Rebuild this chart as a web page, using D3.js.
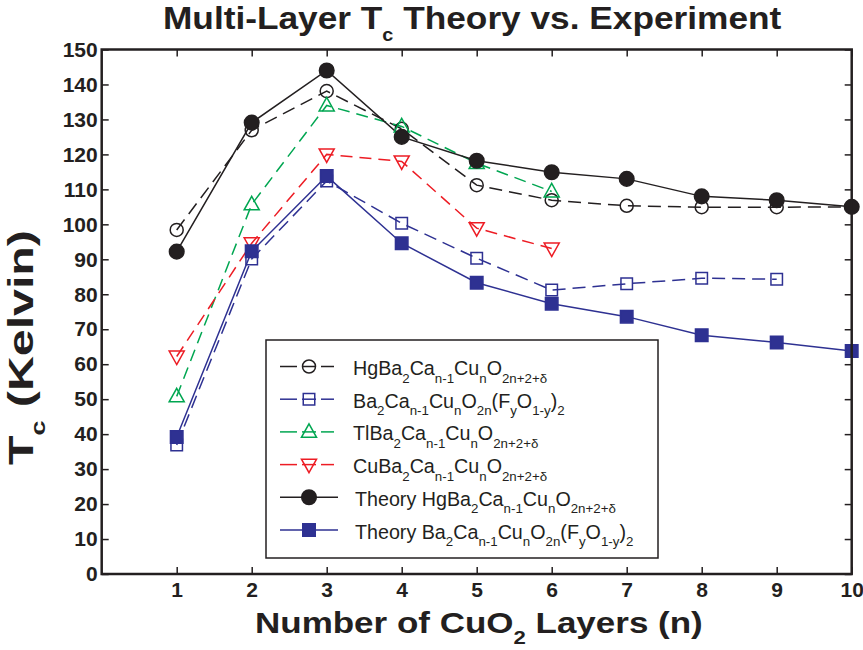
<!DOCTYPE html>
<html><head><meta charset="utf-8">
<script src="https://cdn.jsdelivr.net/npm/d3@7/dist/d3.min.js"></script>
<style>
body{margin:0;background:#fff;}
svg{display:block;font-family:"Liberation Sans",Arial,Helvetica,sans-serif;}
</style></head><body>
<svg id="chart" width="863" height="650"></svg>
<script>
// ---- data ----
const layers = [1,2,3,4,5,6,7,8,9,10];
const hgExp     = [98.4, 126.9, 138.1, 127.3, 111.2, 106.9, 105.3, 104.9, 104.9, 105.0];
const baExp     = [36.9, 90.1, 112.4, 100.3, 90.3, 81.2, 83.0, 84.6, 84.3];
const tlExp     = [50.8, 105.7, 134.0, 128.0, 117.5, 109.4];
const cuExp     = [62.2, 94.6, 120.0, 118.0, 98.9, 93.1];
const hgTheory  = [92.2, 129.1, 144.0, 125.0, 118.2, 114.9, 113.0, 108.0, 106.9, 105.0];
const baTheory  = [39.2, 92.3, 113.8, 94.6, 83.3, 77.3, 73.6, 68.3, 66.2, 63.8];
const yTicks = [0,10,20,30,40,50,60,70,80,90,100,110,120,130,140,150];
const xTicks = [1,2,3,4,5,6,7,8,9,10];
const seriesNames = [
  "HgBa_{2}Ca_{n-1}Cu_{n}O_{2n+2+δ}",
  "Ba_{2}Ca_{n-1}Cu_{n}O_{2n}(F_{y}O_{1-y})_{2}",
  "TlBa_{2}Ca_{n-1}Cu_{n}O_{2n+2+δ}",
  "CuBa_{2}Ca_{n-1}Cu_{n}O_{2n+2+δ}",
  "Theory HgBa_{2}Ca_{n-1}Cu_{n}O_{2n+2+δ}",
  "Theory Ba_{2}Ca_{n-1}Cu_{n}O_{2n}(F_{y}O_{1-y})_{2}"
];
const titleText = "Multi-Layer T_{c} Theory vs. Experiment";
const xLabelText = "Number of CuO_{2} Layers (n)";
const yLabelText = "T_{c} (Kelvin)";

// ---- styles ----
const C = {black:"#231f20", blue:"#2e3192", green:"#00a651", red:"#ed1c24"};
const series = [
  {vals: hgExp,    color:C.black, dash:"13,7", marker:"circle",  filled:false},
  {vals: baExp,    color:C.blue,  dash:"13,7", marker:"square",  filled:false},
  {vals: tlExp,    color:C.green, dash:"12,7", marker:"triUp",   filled:false},
  {vals: cuExp,    color:C.red,   dash:"12,7", marker:"triDown", filled:false},
  {vals: hgTheory, color:C.black, dash:null,   marker:"circle",  filled:true},
  {vals: baTheory, color:C.blue,  dash:null,   marker:"square",  filled:true}
];

const svg = d3.select("#chart");
const L = 101.7, R = 851.7, T = 49.5, B = 574;
const x = d3.scaleLinear().domain([0,10]).range([L,R]);
const y = d3.scaleLinear().domain([0,150]).range([B,T]);

function addRich(textSel, str, subSize, subDy){
  const re = /_\{([^}]*)\}/g;
  let last = 0, m, down = false;
  while((m = re.exec(str)) !== null){
    if(m.index > last){
      textSel.append("tspan").attr("dy", down ? -subDy : 0).text(str.slice(last, m.index));
      down = false;
    }
    textSel.append("tspan").attr("dy", down ? 0 : subDy).attr("font-size", subSize).text(m[1]);
    down = true;
    last = re.lastIndex;
  }
  if(last < str.length){
    textSel.append("tspan").attr("dy", down ? -subDy : 0).text(str.slice(last));
  }
  return textSel;
}

function markerPath(type, size){
  const s = size;
  if(type === "square") return `M${-s/2},${-s/2}H${s/2}V${s/2}H${-s/2}Z`;
  if(type === "triUp") return `M0,${-s*0.62}L${s*0.58},${s*0.42}L${-s*0.58},${s*0.42}Z`;
  if(type === "triDown") return `M0,${s*0.62}L${s*0.58},${-s*0.42}L${-s*0.58},${-s*0.42}Z`;
  return null;
}
function drawMarker(g, sr, cx, cy){
  if(sr.marker === "circle"){
    g.append("circle").attr("cx",cx).attr("cy",cy).attr("r", sr.filled?7.3:6.5)
      .attr("fill", sr.filled?sr.color:"none").attr("stroke",sr.color).attr("stroke-width",1.5);
  } else {
    const size = sr.filled ? 12.5 : (sr.marker==="square"?11.5:13);
    g.append("path").attr("d", markerPath(sr.marker,size)).attr("transform",`translate(${cx},${cy})`)
      .attr("fill", sr.filled?sr.color:"none").attr("stroke",sr.color).attr("stroke-width",1.5);
  }
}

// ---- axes (ticks inward) ----
const tickStyle = g => { g.select(".domain").remove(); g.selectAll(".tick line").attr("stroke","#231f20").attr("stroke-width",1.5); };
const labStyle = g => g.selectAll("text").attr("fill","#231f20").attr("font-size",21).attr("font-weight","bold");

svg.append("g").attr("transform",`translate(${L},0)`)
  .call(d3.axisLeft(y).tickValues(yTicks).tickSize(-7).tickPadding(4))
  .call(tickStyle).call(labStyle);
svg.append("g").attr("transform",`translate(${R},0)`)
  .call(d3.axisRight(y).tickValues(yTicks).tickSize(-7).tickFormat(""))
  .call(tickStyle);
svg.append("g").attr("transform",`translate(0,${B})`)
  .call(d3.axisBottom(x).tickValues(xTicks).tickSize(-7).tickPadding(8))
  .call(tickStyle).call(labStyle);
svg.append("g").attr("transform",`translate(0,${T})`)
  .call(d3.axisTop(x).tickValues(xTicks).tickSize(-7).tickFormat(""))
  .call(tickStyle);

// ---- series ----
const plot = svg.append("g");
const line = d3.line().x((d,i)=>x(layers[i])).y(d=>y(d));
series.forEach(sr=>{
  plot.append("path").datum(sr.vals).attr("d", line).attr("fill","none")
    .attr("stroke", sr.color).attr("stroke-width",1.5)
    .attr("stroke-dasharray", sr.dash);
});
series.forEach(sr=>{
  const g = plot.append("g");
  sr.vals.forEach((v,i)=> drawMarker(g, sr, x(layers[i]), y(v)));
});

// ---- frame ----
svg.append("rect").attr("x",L).attr("y",T).attr("width",R-L).attr("height",B-T)
  .attr("fill","none").attr("stroke","#231f20").attr("stroke-width",2.5);

// ---- legend ----
const lg = svg.append("g");
lg.append("rect").attr("x",266).attr("y",340).attr("width",392).attr("height",218)
  .attr("fill","#fff").attr("stroke","#231f20").attr("stroke-width",1.5);
series.forEach((sr,i)=>{
  const base = 375 + i*32.7, cy = base - 8.5;
  if(sr.dash){
    lg.append("line").attr("x1",280).attr("x2",297).attr("y1",cy).attr("y2",cy).attr("stroke",sr.color).attr("stroke-width",1.5);
    lg.append("line").attr("x1",321).attr("x2",334).attr("y1",cy).attr("y2",cy).attr("stroke",sr.color).attr("stroke-width",1.5);
    lg.append("line").attr("x1",302).attr("x2",316).attr("y1",cy).attr("y2",cy).attr("stroke",sr.color).attr("stroke-width",1.5);
  } else {
    lg.append("line").attr("x1",280).attr("x2",338).attr("y1",cy).attr("y2",cy).attr("stroke",sr.color).attr("stroke-width",1.5);
  }
  drawMarker(lg, sr, 309, cy);
  const t = lg.append("text").attr("x", sr.dash?353:355).attr("y",base)
    .attr("font-size",19.7).attr("fill","#231f20");
  addRich(t, seriesNames[i], 13.3, 7.5);
});

// ---- title & axis labels (fit to measured widths) ----
function fitText(str, fs, subFs, subDy, tx, ty, width, rot){
  const g = svg.append("g");
  const t = g.append("text").attr("font-size",fs).attr("font-weight","bold").attr("fill","#231f20");
  addRich(t, str, subFs, subDy);
  const w = t.node().getBBox().width;
  const k = width / w;
  g.attr("transform", `translate(${tx},${ty})` + (rot?` rotate(${rot})`:"") + ` scale(${k},1)`);
  return t;
}
fitText(titleText, 32, 18, 12, 163, 28.5, 619, 0);
fitText(xLabelText, 30, 19, 11, 255, 633, 448, 0);
fitText(yLabelText, 36, 20, 12, 33, 465, 235, -90);
</script>
</body></html>
